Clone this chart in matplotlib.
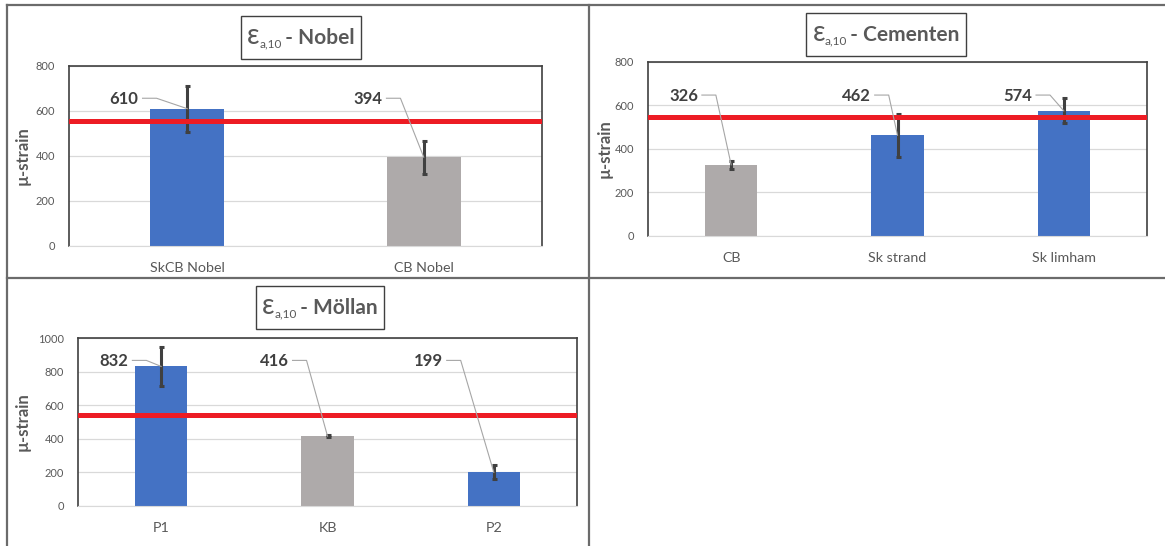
import numpy as np
import matplotlib
matplotlib.use('Agg')
import matplotlib.pyplot as plt
from matplotlib.lines import Line2D
from matplotlib.patches import Rectangle
from matplotlib.transforms import IdentityTransform

plt.rcParams['font.family'] = ['Lato', 'DejaVu Sans']

# data
nobel_cats = ["SkCB Nobel", "CB Nobel"]
nobel_vals = [610, 394]
nobel_err = [102, 73]
nobel_limit = 553

cem_cats = ["CB", "Sk strand", "Sk limham"]
cem_vals = [326, 462, 574]
cem_err = [18, 99, 57]
cem_limit = 546

mol_cats = ["P1", "KB", "P2"]
mol_vals = [832, 416, 199]
mol_err = [114, 5, 42]
mol_limit = 544

BLUE = '#4472C4'
GREY = '#AEAAAA'
TXT = '#595959'

W, H = 1165, 546
fig = plt.figure(figsize=(W / 100, H / 100), dpi=100)
renderer = fig.canvas.get_renderer()


def px_axes(l, t, r, b):
    return fig.add_axes([l / W, 1 - b / H, (r - l) / W, (b - t) / H])


def title(cx, cy, name):
    # "ε" + subscript "a,10" + " - name", chained in pixel coords
    base = H - cy - 7
    t1 = fig.text(0, base, "ε", fontsize=20, color=TXT, transform=IdentityTransform(), va='baseline')
    w1 = t1.get_window_extent(renderer).width
    t2 = fig.text(0, base - 3, "a,10", fontsize=8.5, color=TXT, transform=IdentityTransform(), va='baseline')
    w2 = t2.get_window_extent(renderer).width
    t3 = fig.text(0, base, " - " + name, fontsize=15, fontweight='bold', color=TXT,
                  transform=IdentityTransform(), va='baseline')
    w3 = t3.get_window_extent(renderer).width
    x0 = cx - (w1 + w2 + w3) / 2
    t1.set_x(x0)
    t2.set_x(x0 + w1)
    t3.set_x(x0 + w1 + w2 - 2)
    tot = w1 + w2 + w3
    fig.add_artist(Rectangle((x0 - 6, H - cy - 21.5), tot + 10, 43, transform=IdentityTransform(),
                             fill=False, edgecolor='#404040', lw=1))


def panel(rect, cats, vals, errs, cols, ymax, limit, lab_dx, lab_y, tcenter, name, ylab_x):
    ax = px_axes(*rect)
    x = np.arange(len(cats))
    ax.set_axisbelow(True)
    ax.grid(axis='y', color='#D9D9D9', lw=0.9)
    ax.bar(x, vals, width=0.315, color=cols, zorder=2)
    ax.errorbar(x, vals, yerr=errs, fmt='none', ecolor='#404040', elinewidth=2.2,
                capsize=1.8, capthick=2.2, zorder=3)
    ax.axhline(limit, color='#ED1C24', lw=3.6, zorder=4)
    ax.set_xlim(-0.5, len(cats) - 0.5)
    ax.set_ylim(0, ymax)
    ax.set_yticks(np.arange(0, ymax + 1, 200))
    ax.set_xticks(x, cats)
    ax.tick_params(axis='y', length=0, pad=10, labelsize=8, labelcolor=TXT)
    ax.tick_params(axis='x', length=0, pad=12, labelsize=10.3, labelcolor=TXT)
    for s in ['top', 'left', 'right']:
        ax.spines[s].set_color('#404040')
        ax.spines[s].set_linewidth(1.2)
    ax.spines['bottom'].set_color('#D9D9D9')

    for i, v in enumerate(vals):
        t = ax.text(i + lab_dx[i], lab_y, str(v), ha='center', va='center', fontsize=12,
                    fontweight='bold', color='#404040', zorder=5)
        bb = t.get_window_extent(renderer)
        x0 = bb.x1 + 4
        y0 = (bb.y0 + bb.y1) / 2 + 1
        ex, ey = ax.transData.transform((i, v))
        ax.add_line(Line2D([x0, x0 + 14, ex], [y0, y0, ey], transform=IdentityTransform(),
                           color='#A6A6A6', lw=0.8, zorder=5))

    l, t, r, b = rect
    fig.text(ylab_x / W, 1 - (t + b) / 2 / H, "µ-strain", rotation=90, ha='center', va='center',
             fontsize=12, fontweight='bold', color=TXT)
    title(tcenter[0], tcenter[1], name)
    return ax


panel((69, 66, 542, 245.7), nobel_cats, nobel_vals, nobel_err, [BLUE, GREY], 800, nobel_limit,
      [-0.267, -0.236], 652, (302, 37.5), "Nobel", 22.6)
panel((648, 61.7, 1147, 235.7), cem_cats, cem_vals, cem_err, [GREY, BLUE, BLUE], 800, cem_limit,
      [-0.287, -0.248, -0.278], 642, (887, 34), "Cementen", 604.6)
panel((78, 338.3, 577, 505.7), mol_cats, mol_vals, mol_err, [BLUE, GREY, BLUE], 1000, mol_limit,
      [-0.284, -0.321, -0.395], 862, (321, 307.5), "Möllan", 22.6)

# table frame lines
for xs, ys in [([6.5, 1165], [5, 5]), ([6.5, 6.5], [5, 546]), ([6.5, 1165], [278, 278]),
               ([588.5, 588.5], [5, 546])]:
    fig.add_artist(Line2D([v / W for v in xs], [1 - v / H for v in ys], transform=fig.transFigure,
                          color='#6B6B6B', lw=1.6))

fig.savefig('out.png', dpi=100)
